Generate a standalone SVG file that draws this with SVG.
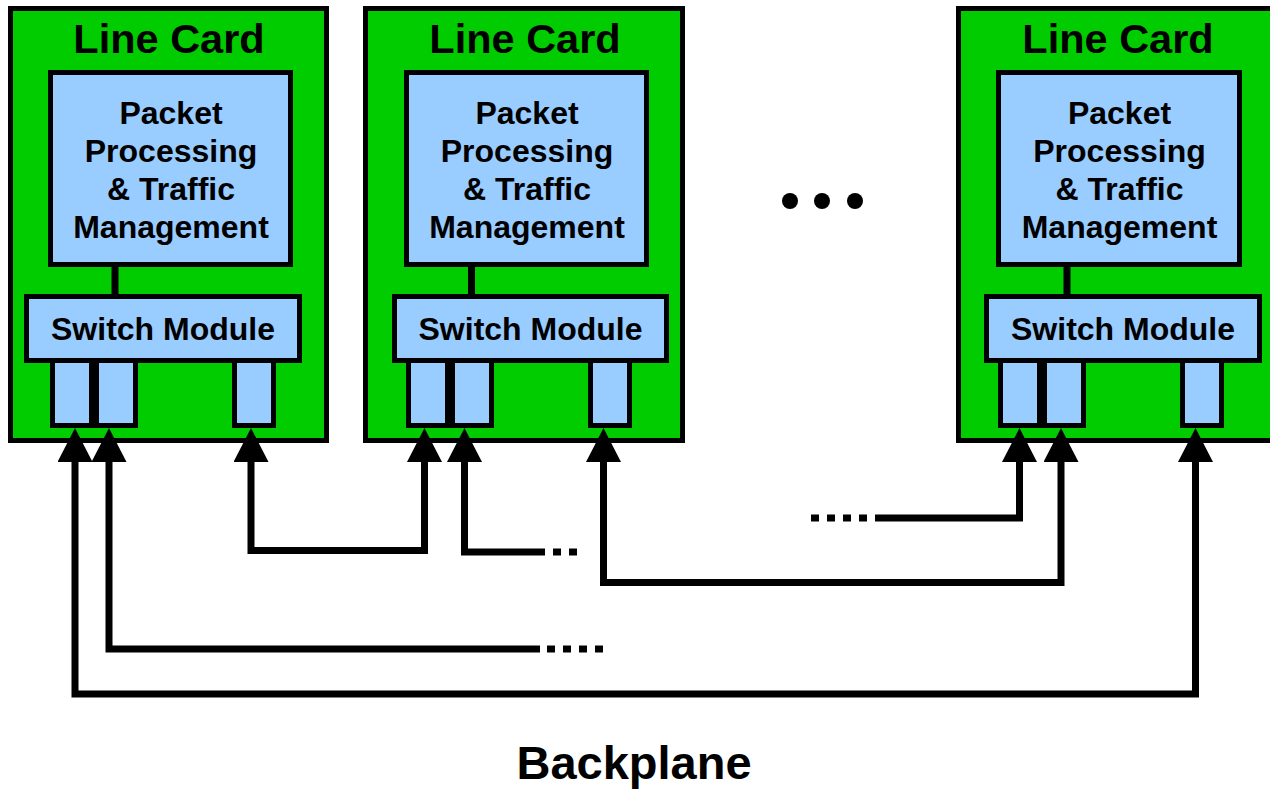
<svg xmlns="http://www.w3.org/2000/svg" width="1270" height="789" viewBox="0 0 1270 789">
<style>
.card{fill:#00CC00;stroke:#000;stroke-width:5}
.box{fill:#99CCFF;stroke:#000;stroke-width:5}
.link{stroke:#000;stroke-width:7}
.t{font-family:"Liberation Sans",Arial,Helvetica,sans-serif;font-weight:bold;fill:#000;text-anchor:middle}
.title{font-size:41.5px}
.lbl{font-size:32px}
.big{font-size:47px}
.wire{fill:none;stroke:#000;stroke-width:7;stroke-linejoin:miter;stroke-linecap:butt}
.dots{fill:none;stroke:#000;stroke-width:7;stroke-dasharray:8 8}
</style>
<defs>
<marker id="arr" viewBox="0 -17.5 34 35" refX="1" refY="0" markerWidth="34" markerHeight="35" markerUnits="userSpaceOnUse" orient="auto-start-reverse">
<polygon points="0,-17.5 34,0 0,17.5" fill="#000"/>
</marker>
</defs>
<rect width="1270" height="789" fill="#fff"/>

<g id="card1">
<rect class="card" x="10.5" y="8.5" width="316" height="432"/>
<text class="t title" x="169" y="53">Line Card</text>
<line class="link" x1="115" y1="265" x2="115" y2="298"/>
<rect class="box" x="50.5" y="72.5" width="240" height="192"/>
<text class="t lbl" x="171" y="124">Packet</text>
<text class="t lbl" x="171" y="162">Processing</text>
<text class="t lbl" x="171" y="200">&amp; Traffic</text>
<text class="t lbl" x="171" y="238">Management</text>
<rect class="box" x="52.5" y="355" width="39" height="70.5"/>
<rect class="box" x="96.5" y="355" width="39" height="70.5"/>
<rect class="box" x="234.5" y="355" width="39" height="70.5"/>
<rect class="box" x="26.5" y="296.5" width="273" height="64"/>
<text class="t lbl" x="163" y="340">Switch Module</text>
</g>

<g id="card2">
<rect class="card" x="365.5" y="8.5" width="317" height="432"/>
<text class="t title" x="525" y="53">Line Card</text>
<line class="link" x1="471.5" y1="265" x2="471.5" y2="298"/>
<rect class="box" x="406.5" y="72.5" width="240" height="192"/>
<text class="t lbl" x="527" y="124">Packet</text>
<text class="t lbl" x="527" y="162">Processing</text>
<text class="t lbl" x="527" y="200">&amp; Traffic</text>
<text class="t lbl" x="527" y="238">Management</text>
<rect class="box" x="408.5" y="355" width="39" height="70.5"/>
<rect class="box" x="452.5" y="355" width="39" height="70.5"/>
<rect class="box" x="590.5" y="355" width="39" height="70.5"/>
<rect class="box" x="394.5" y="296.5" width="272" height="64"/>
<text class="t lbl" x="530.5" y="340">Switch Module</text>
</g>

<g id="ellipsis">
<circle cx="790" cy="201" r="8"/>
<circle cx="822" cy="201" r="8"/>
<circle cx="855" cy="201" r="8"/>
</g>

<g id="card3">
<rect class="card" x="958.5" y="8.5" width="330" height="432"/>
<text class="t title" x="1118" y="53">Line Card</text>
<line class="link" x1="1067" y1="265" x2="1067" y2="298"/>
<rect class="box" x="998.5" y="72.5" width="241" height="192"/>
<text class="t lbl" x="1119.5" y="124">Packet</text>
<text class="t lbl" x="1119.5" y="162">Processing</text>
<text class="t lbl" x="1119.5" y="200">&amp; Traffic</text>
<text class="t lbl" x="1119.5" y="238">Management</text>
<rect class="box" x="1000.5" y="355" width="39" height="70.5"/>
<rect class="box" x="1044.5" y="355" width="39" height="70.5"/>
<rect class="box" x="1182.5" y="355" width="39" height="70.5"/>
<rect class="box" x="986.5" y="296.5" width="273" height="64"/>
<text class="t lbl" x="1123" y="340">Switch Module</text>
</g>

<g id="connectors">
<path class="wire" d="M75,461 V694 H1195.5 V461" marker-start="url(#arr)" marker-end="url(#arr)"/>
<path class="wire" d="M109,461 V649 H540" marker-start="url(#arr)"/>
<path class="dots" d="M547,649 H603"/>
<path class="wire" d="M251,461 V550.5 H424.5 V461" marker-start="url(#arr)" marker-end="url(#arr)"/>
<path class="wire" d="M464.5,461 V552 H545" marker-start="url(#arr)"/>
<path class="dots" d="M553,552 H577"/>
<path class="wire" d="M603.5,461 V582.5 H1061 V461" marker-start="url(#arr)" marker-end="url(#arr)"/>
<path class="wire" d="M1019.5,461 V518 H875" marker-start="url(#arr)"/>
<path class="dots" d="M811,518 H867"/>
</g>

<text id="backplane" class="t big" x="634" y="779">Backplane</text>
</svg>
